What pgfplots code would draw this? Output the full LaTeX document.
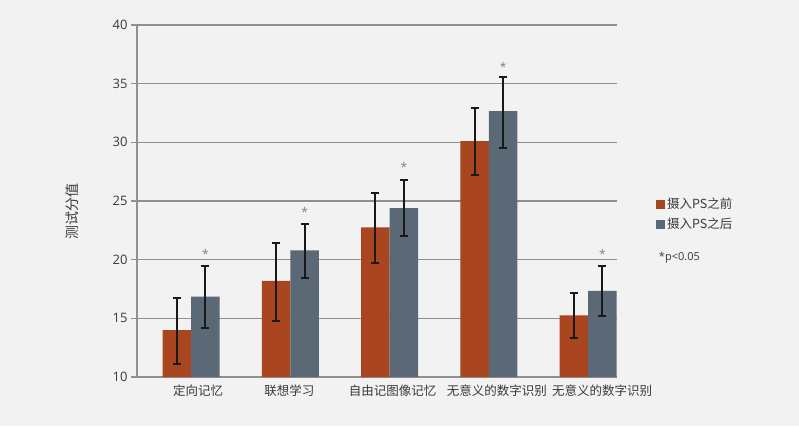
\documentclass[border=0pt]{standalone}
\usepackage{pgfplots}
\pgfplotsset{compat=1.18}
\usepackage{fontspec}
\setmainfont{Open Sans}
\newfontfamily\cjk{Noto Sans CJK SC}
\definecolor{bg}{HTML}{F2F2F2}
\definecolor{c1}{HTML}{A9461F}
\definecolor{c2}{HTML}{5B6875}
\definecolor{gridc}{HTML}{8F8F8F}
\definecolor{txt}{HTML}{3A3A3A}
\begin{document}
\begin{tikzpicture}[x=1pt,y=1pt]
\fill[bg] (0,0) rectangle (799,426);
\begin{axis}[
  at={(137pt,49pt)}, anchor=south west,
  width=480pt, height=352pt, scale only axis,
  ybar, bar width=0.287,
  xmin=-0.545, xmax=4.29, ymin=10, ymax=40,
  ytick={10,15,...,40},
  ymajorgrids, grid style={gridc, line width=1.3pt},
  axis x line*=bottom, axis y line*=left,
  axis line style={gridc, line width=1.3pt, -},
  tick align=outside, major tick length=6pt,
  ytick style={gridc, line width=1.3pt},
  xtick={0.07,0.99,2.03,3.08,4.14},
  xtick style={draw=none},
  xticklabels={定向记忆,联想学习,自由记图像记忆,无意义的数字识别,无意义的数字识别},
  xticklabel style={font=\cjk\fontsize{12.5}{14}\selectfont, text=txt, yshift=2pt},
  yticklabel style={font=\fontsize{13}{15}\selectfont, text=txt},
  /pgf/number format/assume math mode=true,
  ylabel={测试分值},
  ylabel style={font=\cjk\fontsize{14}{16}\selectfont, text=txt, at={(axis description cs:-0.135,0.47)}, anchor=center},
  legend style={at={(axis description cs:1.075,0.52)}, anchor=north west, draw=none, fill=none,
    font=\cjk\fontsize{12.5}{14}\selectfont, text=txt, row sep=4pt, cells={anchor=west}},
  legend image code/.code={\fill[#1] (0pt,-4.5pt) rectangle (9pt,4.5pt);},
  clip=false,
]
\addplot[bar shift=-0.1435, fill=c1, draw=none,
  error bars/.cd, y dir=both, y explicit,
  error bar style={black!90, line width=2pt},
  error mark options={rotate=90, mark size=4pt, line width=2pt, black!90}]
coordinates {
 (0,14.0) += (0,2.76) -= (0,2.92)
 (1,18.2) += (0,3.2) -= (0,3.4)
 (2,22.75) += (0,2.9) -= (0,3.05)
 (3,30.1) += (0,2.8) -= (0,2.9)
 (4,15.25) += (0,1.9) -= (0,1.95)
};
\addlegendentry{摄入PS之前}
\addplot[bar shift=0.1435, fill=c2, draw=none,
  error bars/.cd, y dir=both, y explicit,
  error bar style={black!90, line width=2pt},
  error mark options={rotate=90, mark size=4pt, line width=2pt, black!90}]
coordinates {
 (0,16.85) += (0,2.6) -= (0,2.65)
 (1,20.8) += (0,2.2) -= (0,2.35)
 (2,24.4) += (0,2.35) -= (0,2.4)
 (3,32.65) += (0,2.95) -= (0,3.15)
 (4,17.35) += (0,2.1) -= (0,2.15)
};
\addlegendentry{摄入PS之后}
\addplot[sharp plot, bar shift=0, draw=none, mark=none, forget plot,
  nodes near coords={*},
  nodes near coords style={anchor=center, font=\fontsize{12}{12}\selectfont, text=gray}]
coordinates {(0.1435,20.5) (1.1435,24.1) (2.1435,27.9) (3.1435,36.4) (4.1435,20.5)};
\node[anchor=west, font=\fontsize{11}{13}\selectfont, text=txt] at (axis description cs:1.08,0.34) {*p<0.05};
\end{axis}
\end{tikzpicture}
\end{document}
